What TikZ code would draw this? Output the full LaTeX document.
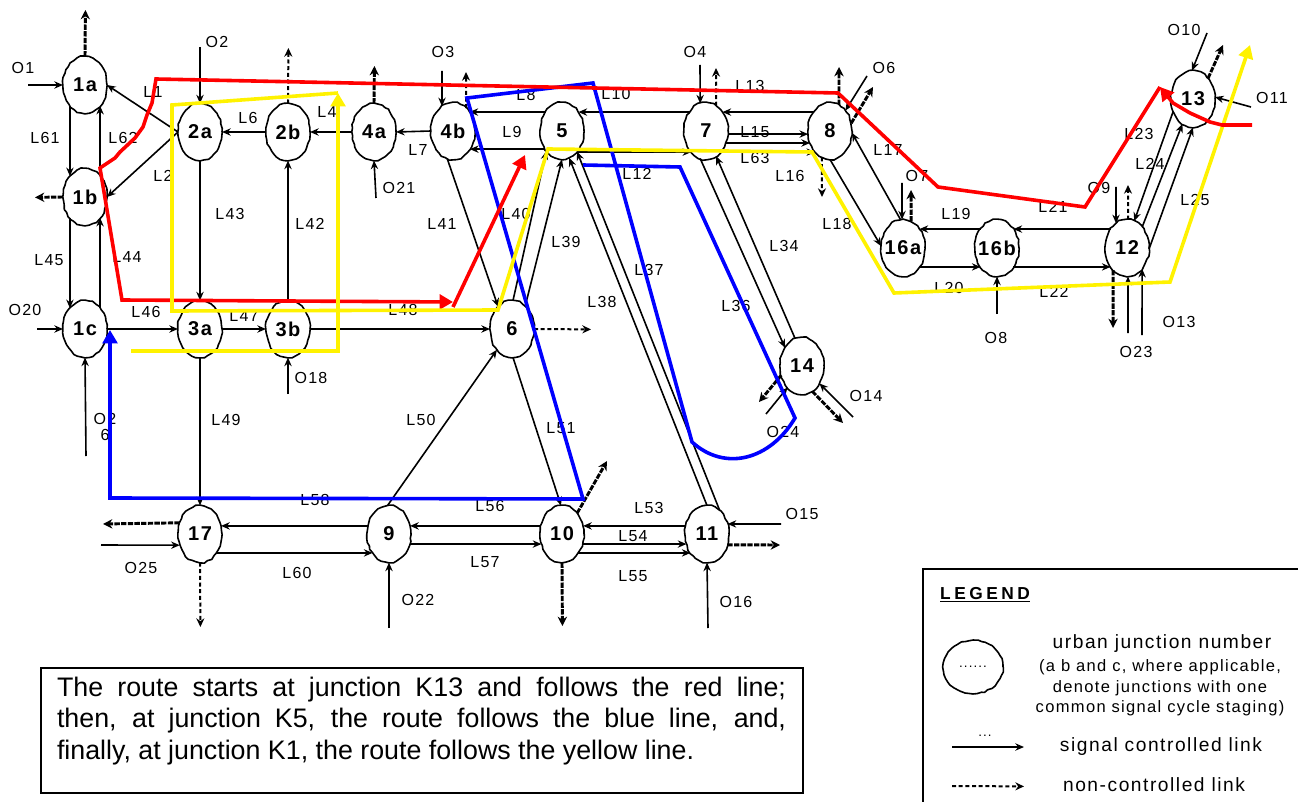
\documentclass[tikz,border=0pt]{standalone}
\usepackage{fontspec}
\setmainfont[LetterSpace=8]{Liberation Sans}
\usetikzlibrary{shapes.geometric,arrows.meta,decorations.pathmorphing}
\newcommand{\jwide}[1]{\makebox[0pt][c]{#1}}
\tikzset{
	junction/.style={ellipse,draw,fill=white,line width=1.2pt,inner sep=0pt,outer sep=0pt,minimum width=33pt,minimum height=42.75pt,font=\fontsize{15}{16}\selectfont\bfseries,decorate,decoration={random steps,segment length=3pt,amplitude=.5pt}},
	lbl/.style={inner sep=0pt,font=\fontsize{12}{12.8}\selectfont,align=center},
	link/.style={-{Stealth[length=6.5pt,width=5.5pt]},line width=1.2pt},
	nolink/.style={-{Stealth[length=6.5pt,width=6pt]},line width=1.5pt,densely dashed},
	heavylink/.style={-{Stealth[length=7pt,width=7pt]},line width=2.2pt,dash pattern=on 4pt off 1pt},
	routered/.style={red,line width=2.7pt},
	routeblue/.style={blue,line width=2.7pt},
	routeyellow/.style={yellow,line width=2.7pt},
	routetip/.style={-{Triangle[length=10pt,width=11pt]}},
}
\begin{document}
\begin{tikzpicture}[x=.75pt,y=-.75pt]
			\useasboundingbox (0,0) rectangle (1298,802);
			% junctions
			\node[junction](J1a) at (85,85){1a};
			\node[junction](J1b) at (85,197){1b};
			\node[junction](J1c) at (85,329){1c};
			\node[junction](J2a) at (200,132){2a};
			\node[junction](J2b) at (288,132){2b};
			\node[junction](J4a) at (374,132){4a};
			\node[junction](J4b) at (453,131){4b};
			\node[junction](J5) at (562,131){5};
			\node[junction](J7) at (706,131){7};
			\node[junction](J8) at (830,131){8};
			\node[junction](J16a) at (903,248){\jwide{16a}};
			\node[junction](J16b) at (997,248){\jwide{16b}};
			\node[junction](J12) at (1127,248){12};
			\node[junction](J13) at (1193,99){13};
			\node[junction](J14) at (802,366){14};
			\node[junction](J3a) at (200,329){3a};
			\node[junction](J3b) at (288,329){3b};
			\node[junction](J6) at (512,329){6};
			\node[junction](J17) at (200,534){17};
			\node[junction](J9) at (389,534){9};
			\node[junction](J10) at (562,534){10};
			\node[junction](J11) at (707,534){11};
			% free ends of the links
			\coordinate(E1) at (28,85);
			\coordinate(E2) at (85.4,10);
			\coordinate(E3) at (35,197.4);
			\coordinate(E4) at (200,47);
			\coordinate(E5) at (288.4,48);
			\coordinate(E6) at (374.4,66);
			\coordinate(E7) at (376,198);
			\coordinate(E8) at (442,71);
			\coordinate(E9) at (466,72);
			\coordinate(E10) at (700,65);
			\coordinate(E11) at (716,68);
			\coordinate(E12) at (839,67);
			\coordinate(E13) at (867,76);
			\coordinate(E14) at (873,87);
			\coordinate(E15) at (822,197);
			\coordinate(E16) at (902,183);
			\coordinate(E17) at (911,190);
			\coordinate(E18) at (997,314);
			\coordinate(E19) at (1116,187);
			\coordinate(E20) at (1128,185);
			\coordinate(E21) at (1113,328);
			\coordinate(E22) at (1128,333);
			\coordinate(E23) at (1142,335);
			\coordinate(E24) at (1207,33);
			\coordinate(E25) at (1223,45);
			\coordinate(E26) at (1251,107);
			\coordinate(E27) at (37,329);
			\coordinate(E28) at (86,456);
			\coordinate(E29) at (288,394);
			\coordinate(E30) at (591,329.4);
			\coordinate(E31) at (759,402);
			\coordinate(E32) at (766,414);
			\coordinate(E33) at (853,417);
			\coordinate(E34) at (843,423);
			\coordinate(E35) at (607,461);
			\coordinate(E36) at (781,524);
			\coordinate(E37) at (780,545);
			\coordinate(E38) at (708,628);
			\coordinate(E39) at (389,628);
			\coordinate(E40) at (562.4,626);
			\coordinate(E41) at (200.4,627);
			\coordinate(E42) at (103,524);
			\coordinate(E43) at (101,545);
			% links
			\draw[link](J1a.-126)--(J1b.126);
			\draw[link](J1b.54)--(J1a.-54);
			\draw[link](J1b.-126)--(J1c.126);
			\draw[link](J1c.54)--(J1b.-54);
			\draw[link](J2a.180)--(J1a.0);
			\draw[link](J2a.180)--(J1b.0);
			\draw[link](J2a.south)--(J3a.north);
			\draw[link](J3b.north)--(J2b.south);
			\draw[link](J2b.west)--(J2a.east);
			\draw[link](J4a.west)--(J2b.east);
			\draw[link](J4b.west)--(J4a.east);
			\draw[link](J5.131)--(J4b.49);
			\draw[link](J7.131)--(J5.49);
			\draw[link](J8.131)--(J7.49);
			\draw[link](J5.-133)--(J4b.-47);
			\draw[link](J5.-55)--(J7.-125);
			\draw[link](J7.-8)--(J8.-172);
			\draw[link](J7.-31)--(J8.-149);
			\draw[link](J7.-55)--(J8.-125);
			\draw[link](J4b.-102)--(J6.122);
			\draw[link](J6.60)--(J5.-90);
			\draw[link](J6.88)--(J5.-128);
			\draw[link](J11.90)--(J5.-75);
			\draw[link](J11.61)--(J5.-54);
			\draw[link](J14.104)--(J7.-68);
			\draw[link](J7.-102)--(J14.133);
			\draw[link](J8.-90)--(J16a.175);
			\draw[link](J16a.95)--(J8.-5);
			\draw[link](J16b.131)--(J16a.49);
			\draw[link](J12.131)--(J16b.49);
			\draw[link](J16a.-49)--(J16b.-131);
			\draw[link](J16b.-49)--(J12.-131);
			\draw[link](J13.-148)--(J12.75);
			\draw[link](J12.54)--(J13.-113);
			\draw[link](J12.-3)--(J13.-90);
			\draw[link](J1c.east)--(J3a.west);
			\draw[link](J3a.east)--(J3b.west);
			\draw[link](J3b.east)--(J6.west);
			\draw[link](J3a.south)--(J17.north);
			\draw[link](J9.93)--(J6.-126);
			\draw[link](J6.-88)--(J10.92);
			\draw[link](J11.159)--(J10.21);
			\draw[link](J10.159)--(J9.21);
			\draw[link](J9.-26)--(J10.-154);
			\draw[link](J10.-26)--(J11.-154);
			\draw[link](J10.-49)--(J11.-131);
			\draw[link](J9.159)--(J17.21);
			\draw[link](J17.-49)--(J9.-131);
			% origins
			\draw[link](E1)--(J1a.west);
			\draw[link](E4)--(J2a.north);
			\draw[link](E7)--(J4a.south);
			\draw[link](E8)--(J4b.114);
			\draw[link](E10)--(J7.102);
			\draw[link](E13)--(J8.53);
			\draw[link](E16)--(J16a.92);
			\draw[link](E18)--(J16b.south);
			\draw[link](E19)--(J12.114);
			\draw[link](E22)--(J12.-88);
			\draw[link](E23)--(J12.-54);
			\draw[link](E24)--(J13.92);
			\draw[link](E26)--(J13.5);
			\draw[link](E27)--(J1c.west);
			\draw[link](E28)--(J1c.south);
			\draw[link](E29)--(J3b.south);
			\draw[link](E32)--(J14.-124);
			\draw[link](E33)--(J14.-45);
			\draw[link](E36)--(J11.26);
			\draw[link](E38)--(J11.south);
			\draw[link](E39)--(J9.south);
			\draw[link](E43)--(J17.-151);
			% non-controlled links
			\draw[heavylink](J1a.north)--(E2);
			\draw[heavylink](J1b.west)--(E3);
			\draw[nolink](J2b.north)--(E5);
			\draw[heavylink](J4a.north)--(E6);
			\draw[nolink](J4b.60)--(E9);
			\draw[nolink](J7.68)--(E11);
			\draw[heavylink](J8.71)--(E12);
			\draw[heavylink](J8.20)--(E14);
			\draw[nolink](J8.-107)--(E15);
			\draw[heavylink](J16a.73)--(E17);
			\draw[nolink](J12.88)--(E20);
			\draw[heavylink](J12.-122)--(E21);
			\draw[heavylink](J13.54)--(E25);
			\draw[nolink](J6.east)--(E30);
			\draw[heavylink](J14.-156)--(E31);
			\draw[heavylink](J14.-68)--(E34);
			\draw[heavylink](J10.54)--(E35);
			\draw[heavylink](J11.-28)--(E37);
			\draw[heavylink](J10.south)--(E40);
			\draw[nolink](J17.south)--(E41);
			\draw[heavylink](J17.151)--(E42);
			% labels of links and origins
			\node[lbl](O1) at (23,68){O1};
			\node[lbl](O2) at (217,42){O2};
			\node[lbl](O3) at (443,52){O3};
			\node[lbl](O4) at (695,52){O4};
			\node[lbl](O6) at (884,68){O6};
			\node[lbl](O7) at (917,176){O7};
			\node[lbl](O8) at (996,338){O8};
			\node[lbl](O9) at (1099,188){O9};
			\node[lbl](O10) at (1184,30){O10};
			\node[lbl](O11) at (1272,98){O11};
			\node[lbl](O13) at (1179,322){O13};
			\node[lbl](O14) at (866,396){O14};
			\node[lbl](O15) at (802,514){O15};
			\node[lbl](O16) at (736,602){O16};
			\node[lbl](O18) at (311,378){O18};
			\node[lbl](O20) at (25,310){O20};
			\node[lbl](O21) at (399,188){O21};
			\node[lbl](O22) at (418,600){O22};
			\node[lbl](O23) at (1136,352){O23};
			\node[lbl](O24) at (783,432){O24};
			\node[lbl](O25) at (141,568){O25};
			\node[lbl,font=\fontsize{12}{12.5}\selectfont](O26) at (105,427){O2\\6};
			\node[lbl](L1) at (153,92){L1};
			\node[lbl](L2) at (163,176){L2};
			\node[lbl](L4) at (327,112){L4};
			\node[lbl](L6) at (248,118){L6};
			\node[lbl](L7) at (418,150){L7};
			\node[lbl](L8) at (526,95){L8};
			\node[lbl](L9) at (512,132){L9};
			\node[lbl](L10) at (616,94){L10};
			\node[lbl](L12) at (637,174){L12};
			\node[lbl](L13) at (750,86){L13};
			\node[lbl](L15) at (755,132){L15};
			\node[lbl](L16) at (790,176){L16};
			\node[lbl](L17) at (888,150){L17};
			\node[lbl](L18) at (837,224){L18};
			\node[lbl](L19) at (956,214){L19};
			\node[lbl](L20) at (949,288){L20};
			\node[lbl](L21) at (1053,207){L21};
			\node[lbl](L22) at (1054,292){L22};
			\node[lbl](L23) at (1139,134){L23};
			\node[lbl](L24) at (1150,164){L24};
			\node[lbl](L25) at (1195,200){L25};
			\node[lbl](L34) at (784,246){L34};
			\node[lbl](L36) at (736,306){L36};
			\node[lbl](L37) at (649,270){L37};
			\node[lbl](L38) at (602,302){L38};
			\node[lbl](L39) at (566,242){L39};
			\node[lbl](L40) at (516,214){L40};
			\node[lbl](L41) at (442,224){L41};
			\node[lbl](L42) at (310,224){L42};
			\node[lbl](L43) at (230,214){L43};
			\node[lbl](L44) at (127,257){L44};
			\node[lbl](L45) at (49,260){L45};
			\node[lbl](L46) at (146,312){L46};
			\node[lbl](L47) at (244,316){L47};
			\node[lbl](L48) at (403,310){L48};
			\node[lbl](L49) at (226,420){L49};
			\node[lbl](L50) at (421,420){L50};
			\node[lbl](L51) at (561,428){L51};
			\node[lbl](L53) at (649,508){L53};
			\node[lbl](L54) at (633,536){L54};
			\node[lbl](L55) at (633,576){L55};
			\node[lbl](L56) at (490,506){L56};
			\node[lbl](L57) at (485,562){L57};
			\node[lbl](L58) at (315,500){L58};
			\node[lbl](L60) at (297,573){L60};
			\node[lbl](L61) at (45,138){L61};
			\node[lbl](L62) at (123,138){L62};
			\node[lbl](L63) at (755,158){L63};
			% the route
			\draw[routeblue,routetip](583,165)--(680,167)--(795,418) .. controls (770,460) and (725,472) .. (692,442)--(593,83)--(467,98)--(583,499)--(110,498)--(110,330);
			\draw[routered,routetip](1160,87)--(1085,207)--(938,187)--(838,93)--(156,79)--(152,103)--(147,115)--(143,127)--(135,138)--(120,152)--(115,158)--(100,168)--(122,300)--(453,302);
			\draw[routered,routetip](453,307)--(525,155);
			\draw[routeyellow,routetip](131,351)--(338,351)--(338,93);
			\draw[routeyellow,routetip](338,93)--(172,105)--(172,311)--(498,310)--(548,149)--(812,152)--(894,293)--(1170,282)--(1250,45);
			\draw[routered,routetip](1252,125)--(1222,125)--(1210,122)--(1190,113)--(1173,103)--(1160,87);
			% note and legend
			\node[draw,line width=1.7pt,minimum width=571.5pt,minimum height=93.75pt,inner sep=0pt](notebox) at (422,730.5){};
			\node[text width=546.75pt,align=justify,inner sep=0pt,font=\fontsize{20.1}{23.8}\selectfont\addfontfeature{LetterSpace=0}](note) at (421.5,721){The route starts at junction K13 and follows the red line;\linebreak then, at junction K5, the route follows the blue line, and,\linebreak finally, at junction K1, the route follows the yellow line.};
			\draw[line width=1.2pt](1298,569)--(923,569)--(923,802);
			\node[inner sep=0pt,font=\fontsize{13}{14}\selectfont\bfseries\addfontfeature{LetterSpace=20}](legend) at (985,595){\underline{LEGEND}};
			\node[junction,minimum width=45pt,minimum height=40pt,font=\fontsize{10}{11}\selectfont](legendj) at (973,667){......};
			\node[lbl,font=\fontsize{14.4}{15}\selectfont](legend1) at (1162,644){urban junction number};
			\node[lbl,font=\fontsize{12.4}{15.5}\selectfont](legend2) at (1160,688){(a b and c, where applicable,\\denote junctions with one\\common signal cycle staging)};
			\node[lbl,font=\fontsize{14.4}{15}\selectfont](legend3) at (1161,747){signal controlled link};
			\node[lbl,font=\fontsize{14.4}{15}\selectfont](legend4) at (1154,785){non-controlled link};
			\node[lbl,font=\fontsize{10}{11}\selectfont](legenddots) at (985,736){...};
			\coordinate(S1) at (952,747);
			\coordinate(S2) at (1024,747);
			\coordinate(S3) at (952,786);
			\coordinate(S4) at (1024,786.4);
			\draw[link](S1)--(S2);
			\draw[nolink](S3)--(S4);
		\end{tikzpicture}
\end{document}
